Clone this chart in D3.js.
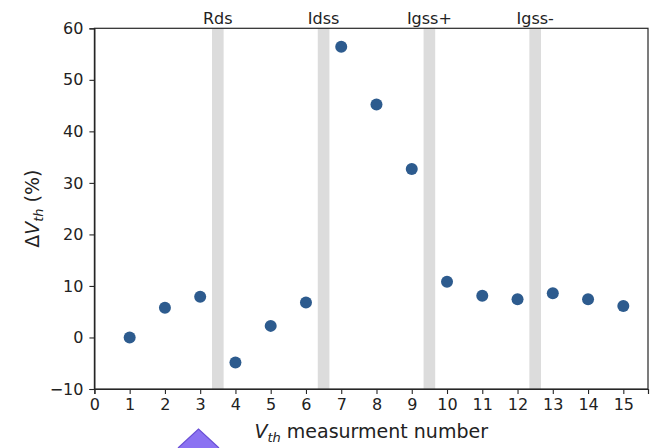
<!DOCTYPE html>
<html><head><meta charset="utf-8">
<script src="https://cdn.jsdelivr.net/npm/d3@7"></script>
<style>body{margin:0;background:#fff}svg{display:block}</style>
</head><body>
<script>
const measurement = [1,2,3,4,5,6,7,8,9,10,11,12,13,14,15];
const deltaVth = [0,5.75,7.9,-4.85,2.25,6.8,56.4,45.2,32.7,10.8,8.1,7.4,8.6,7.4,6.1];
const bandCenters = [3.5,6.5,9.5,12.5];
const bandLabels = ["Rds","Idss","Igss+","Igss-"];
const xTicks = [0,1,2,3,4,5,6,7,8,9,10,11,12,13,14,15];
const yTicks = [-10,0,10,20,30,40,50,60];

const W=654,H=448;
const m={l:94.4,r:6,t:28.3,b:59};
const svg=d3.select("body").append("svg").attr("width",W).attr("height",H);
const x=d3.scaleLinear().domain([0,15.7]).range([m.l,W-m.r]);
const y=d3.scaleLinear().domain([-10,60]).range([H-m.b,m.t]);
const font="DejaVu Sans, sans-serif";

// bands
svg.append("g").selectAll("rect").data(bandCenters).join("rect")
  .attr("x",d=>x(d-0.165)).attr("width",d=>x(d+0.165)-x(d-0.165))
  .attr("y",y(60)).attr("height",y(-10)-y(60)).attr("fill","#dcdcdc");

// band labels
svg.append("g").selectAll("text").data(bandCenters).join("text")
  .attr("x",d=>x(d)).attr("y",y(60)-4).attr("text-anchor","middle")
  .attr("font-family",font).attr("font-size",16).attr("fill","#222")
  .text((d,i)=>bandLabels[i]);

// frame
svg.append("rect").attr("x",x(0)).attr("y",y(60)).attr("width",x(15.7)-x(0)).attr("height",y(-10)-y(60))
  .attr("fill","none").attr("stroke","#262626").attr("stroke-width",1.2);

const xa=svg.append("g").attr("transform",`translate(0,${y(-10)})`)
  .call(d3.axisBottom(x).tickValues(xTicks).tickFormat(d3.format("d")).tickSize(5).tickPadding(5));
const ya=svg.append("g").attr("transform",`translate(${x(0)},0)`)
  .call(d3.axisLeft(y).tickValues(yTicks).tickFormat(d=>d<0?"\u2212"+Math.abs(d):d).tickSize(5).tickPadding(6));
[xa,ya].forEach(a=>{
  a.select(".domain").attr("stroke","#262626").attr("stroke-width",1.2);
  a.selectAll(".tick line").attr("stroke","#262626").attr("stroke-width",1.1);
  a.selectAll("text").attr("font-family",font).attr("font-size",16).attr("fill","#222");
});

// points
svg.append("g").selectAll("circle").data(measurement).join("circle")
  .attr("cx",d=>x(d)).attr("cy",(d,i)=>y(deltaVth[i])).attr("r",6).attr("fill","#2d5b8e");

// y label
const yl=svg.append("text").attr("transform",`translate(39,${(y(60)+y(-10))/2}) rotate(-90)`)
  .attr("text-anchor","middle").attr("font-family",font).attr("font-size",19).attr("fill","#222");
yl.append("tspan").text("\u0394");
yl.append("tspan").attr("font-style","italic").text("V");
yl.append("tspan").attr("font-style","italic").attr("font-size",13).attr("dy",4).text("th");
yl.append("tspan").attr("dy",-4).text(" (%)");

// x label
const xl=svg.append("text").attr("x",(x(0)+x(15.7))/2).attr("y",438)
  .attr("text-anchor","middle").attr("font-family",font).attr("font-size",19).attr("fill","#222");
xl.append("tspan").attr("font-style","italic").text("V");
xl.append("tspan").attr("font-style","italic").attr("font-size",13).attr("dy",4).text("th");
xl.append("tspan").attr("dy",-4).text(" measurment number");

// purple marker
svg.append("path").attr("d",d3.line()([[178,448],[198.5,429],[219,448]]))
  .attr("fill","#8b72f2").attr("stroke","#6a50d6").attr("stroke-width",1.2);
</script>
</body></html>
